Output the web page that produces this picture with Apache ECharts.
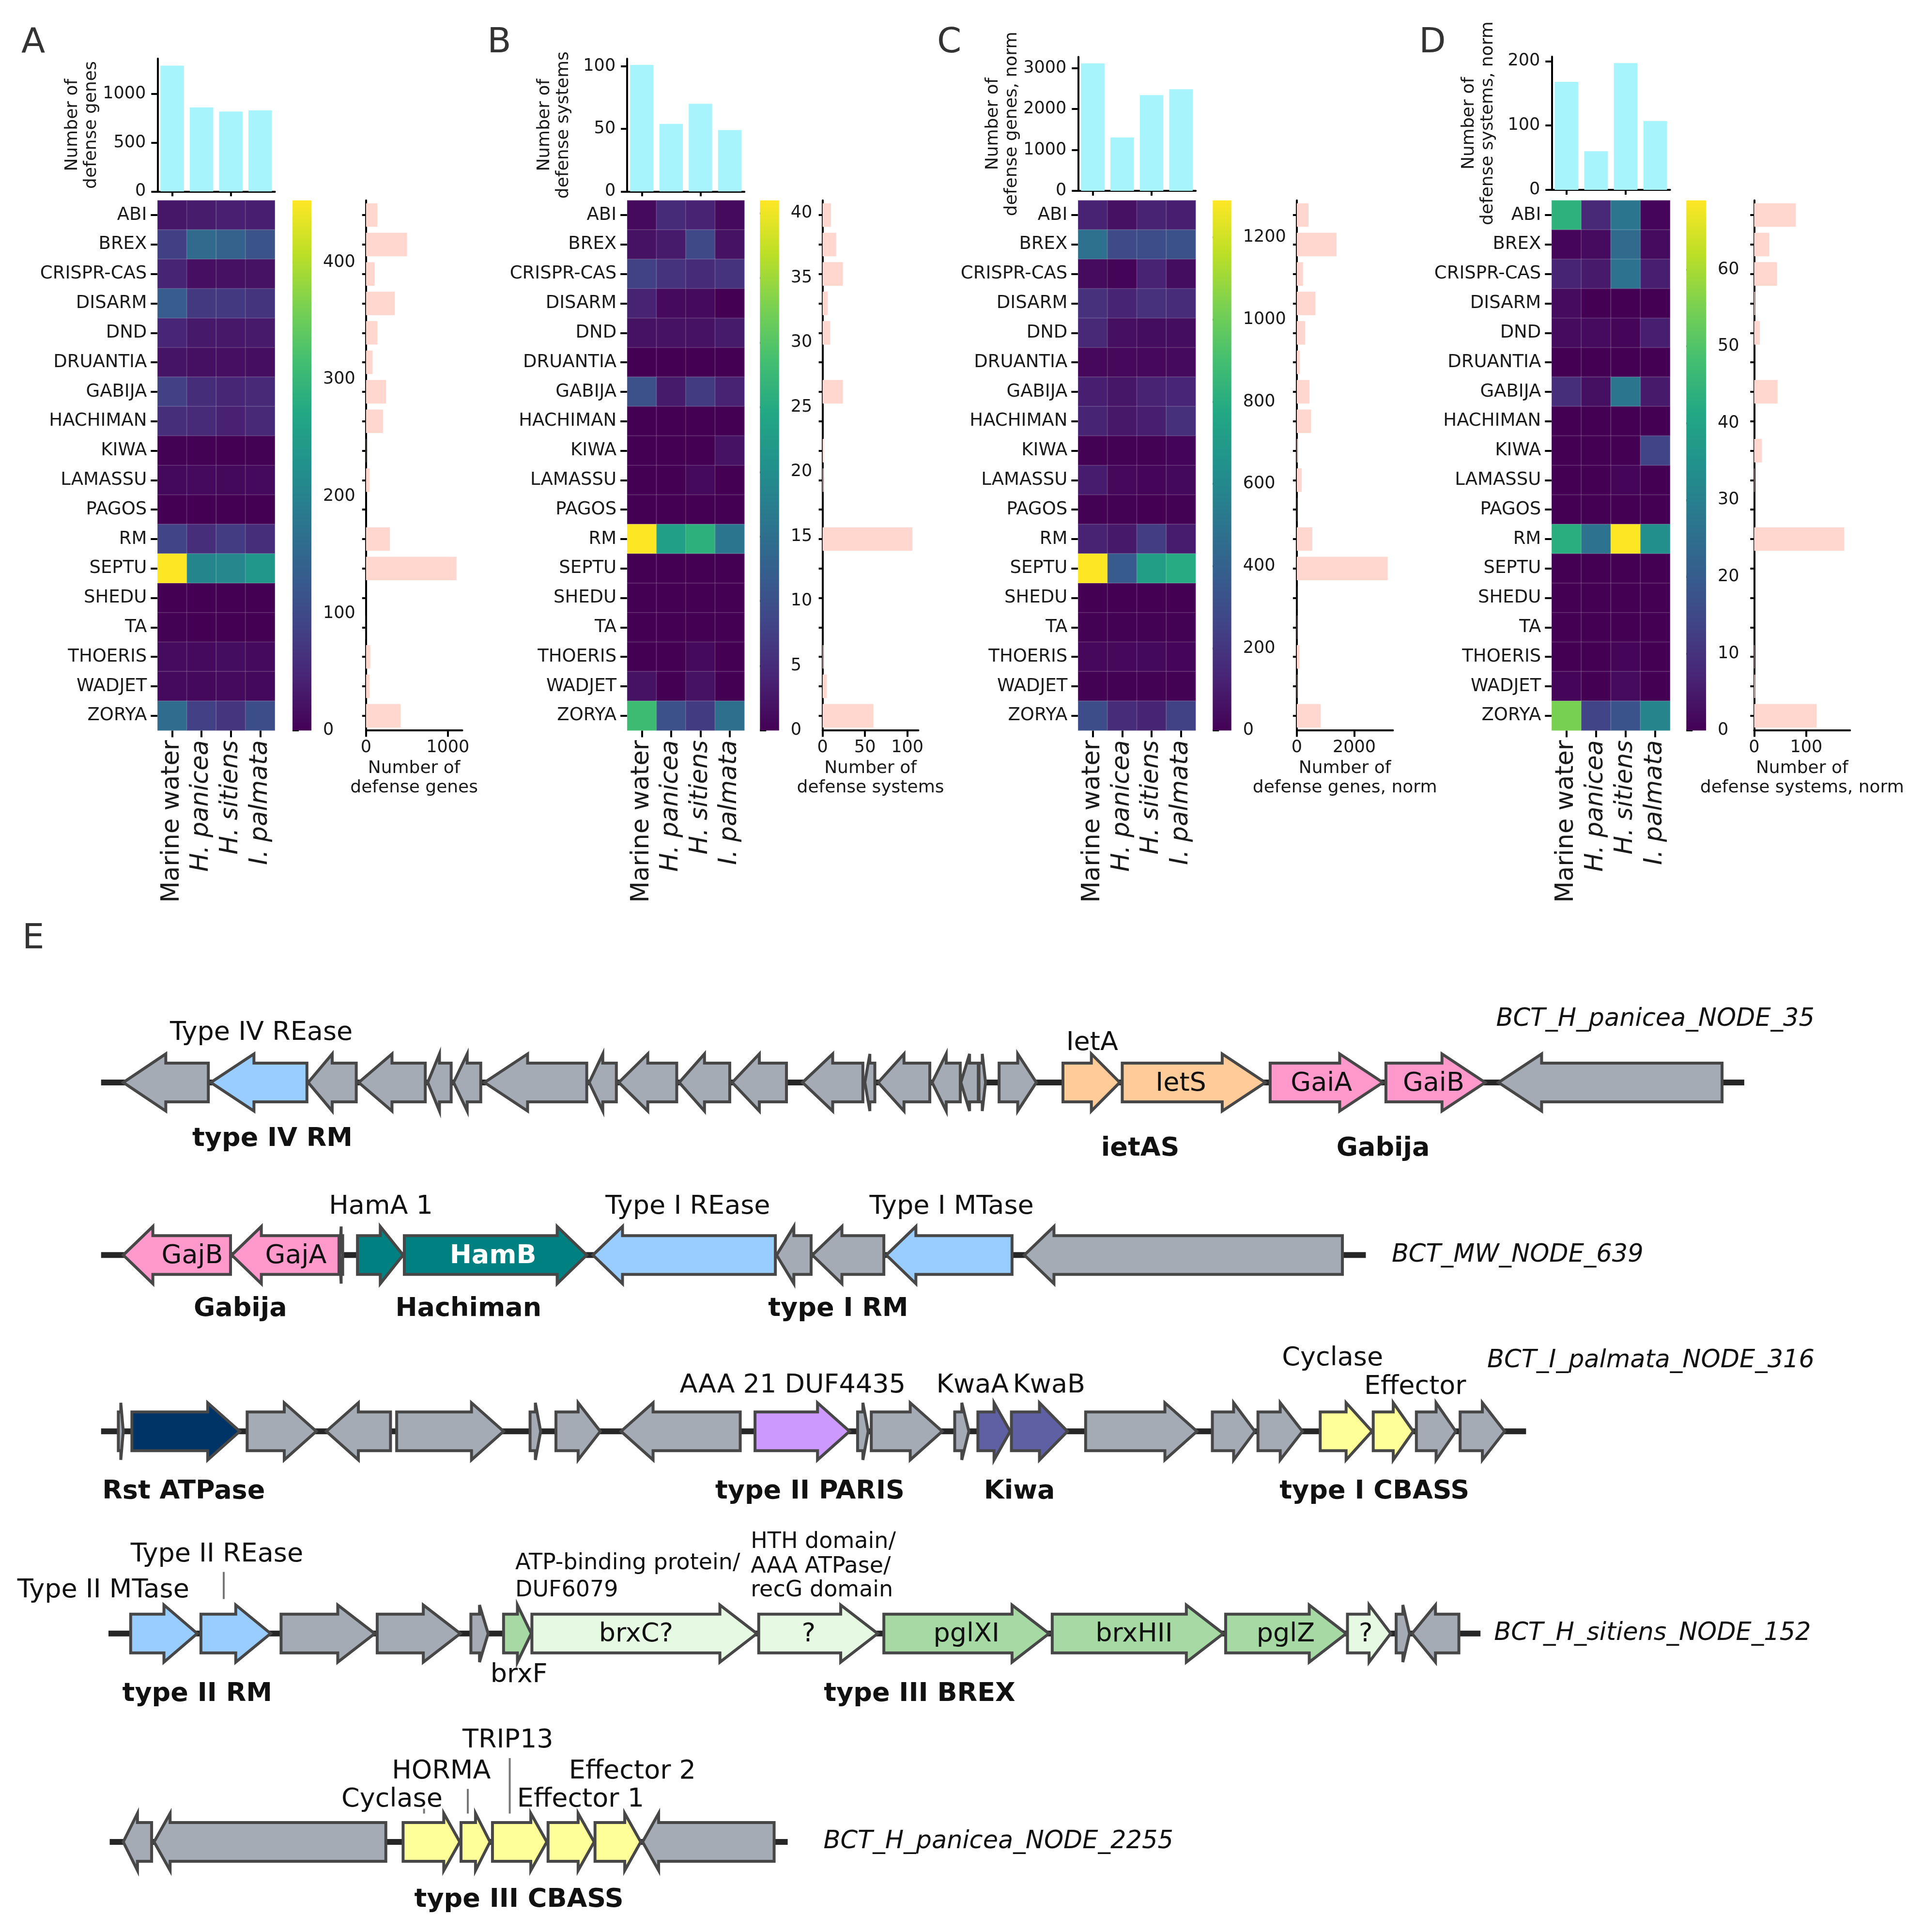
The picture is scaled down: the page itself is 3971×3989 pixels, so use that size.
<!DOCTYPE html>
<html><head><meta charset="utf-8">
<script src="https://cdn.jsdelivr.net/npm/echarts@6/dist/echarts.min.js"></script>
<style>html,body{margin:0;padding:0;background:#fff}#c{width:3971px;height:3989px}</style>
</head><body><div id="c"></div>
<script>
// ================= DATA =================
const samples = ['Marine water', 'H. panicea', 'H. sitiens', 'I. palmata'];
const systems = ['ABI','BREX','CRISPR-CAS','DISARM','DND','DRUANTIA','GABIJA','HACHIMAN','KIWA','LAMASSU','PAGOS','RM','SEPTU','SHEDU','TA','THOERIS','WADJET','ZORYA'];

// Panel A: number of defense genes (rows = systems, cols = samples)
const genesMatrix = [
  [27,35,40,38],[85,158,142,117],[45,18,20,22],[133,75,75,68],[47,31,30,32],[25,19,18,17],
  [86,58,48,53],[59,55,42,52],[1,1,0,1],[11,12,10,12],[0,0,0,0],[92,60,79,60],
  [453,205,210,238],[0,0,0,0],[1,0,0,0],[13,12,16,12],[12,11,12,10],[160,86,69,108]
];
const genesPerSample = [1289, 861, 819, 831];
const genesPerSystem = [140,502,106,351,140,79,245,208,3,45,0,291,1106,0,1,53,45,423];

// Panel B: number of defense systems
const systemsMatrix = [
  [1,5,4,1],[2,3,9,2],[8,6,5,6],[4,1,1,0],[2,2,2,3],[0,0,0,0],
  [10,3,7,4],[0,0,0,0],[0,0,0,2],[0,0,1,0],[0,0,0,0],[41,23,26,16],
  [0,0,0,0],[0,0,0,0],[0,0,0,0],[0,0,1,0],[2,0,2,0],[28,10,7,15]
];
const systemsPerSample = [101, 54, 70, 49];
const systemsPerSystem = [10,16,24,6,9,0,24,0,1.5,1,0,106,0,0,0,1,5,60];

// Panel C: number of defense genes, normalized
const genesNormMatrix = [
  [120,60,120,110],[480,290,300,320],[40,10,120,45],[180,130,180,160],[150,50,45,45],[25,25,25,35],
  [110,80,120,135],[130,85,110,175],[5,5,3,15],[100,25,20,30],[2,2,1,2],[120,90,230,100],
  [1290,370,720,790],[1,1,1,1],[3,3,2,2],[25,25,30,20],[3,5,2,3],[300,160,130,250]
];
const genesNormPerSample = [3113, 1306, 2339, 2482];
const genesNormPerSystem = [410,1384,216,650,292,108,443,497,28,173,7,540,3168,4,10,97,13,832];

// Panel D: number of defense systems, normalized
const systemsNormMatrix = [
  [44,8,27,1],[1,2,24,2],[7,5,26,6],[2,0,0,0],[2,2,1,6],[0,0,0,0],
  [9,3,27,5],[0,0,0,0],[0,0,0,14],[0,0,1,0],[0,0,0,0],[43,26,69,34],
  [0,0,0,0],[0,0,0,0],[0,0,0,0],[0,0,1,0],[1,0,2,0],[55,14,18,31]
];
const systemsNormPerSample = [168, 60, 197, 107];
const systemsNormPerSystem = [80,29,44,2,11,0,45,0,15,1,0,173,0,0,0,1,2,120];

// Tick labels
const topTicksA = [0, 500, 1000],  cbTicksA = [0, 100, 200, 300, 400],             rightTicksA = [0, 1000];
const topTicksB = [0, 50, 100],    cbTicksB = [0, 5, 10, 15, 20, 25, 30, 35, 40],  rightTicksB = [0, 50, 100];
const topTicksC = [0, 1000, 2000, 3000], cbTicksC = [0, 200, 400, 600, 800, 1000, 1200], rightTicksC = [0, 2000];
const topTicksD = [0, 100, 200],   cbTicksD = [0, 10, 20, 30, 40, 50, 60],         rightTicksD = [0, 100];

// Panel E: gene neighbourhoods [start, end, strand, type]
const e1Backbone = [82, 1415];
const e1Genes = [
  [100,169,-1,'gray'],[171,249,-1,'blue'],[250,289,-1,'gray'],[291,345,-1,'gray'],[347,366,-1,'gray'],
  [368,390,-1,'gray'],[393,476,-1,'gray'],[478,500,-1,'gray'],[502,549,-1,'gray'],[551,592,-1,'gray'],
  [594,638,-1,'gray'],[651,700,-1,'gray'],[701.6,709.7,-1,'gray'],[712.4,754.3,-1,'gray'],[756.2,779,-1,'gray'],
  [779.5,793.6,-1,'gray'],[794.2,799.5,1,'gray'],[810.5,840.7,1,'gray'],[862.3,908.4,1,'orange'],
  [910.4,1026.5,1,'orange'],[1030.4,1121.8,1,'pink'],[1124.3,1204.8,1,'pink'],[1215.6,1397,-1,'gray']
];
const e1Labels = [
  [212,-40,'Type IV REase','n'],[221,46,'type IV RM','b'],[886,-32,'IetA','n'],[958,1,'IetS','n'],
  [1072,1,'GaiA','n'],[1163,1,'GaiB','n'],[925,54,'ietAS','b'],[1122,54,'Gabija','b'],
  [1472,-51,'BCT_H_panicea_NODE_35','i','right']
];
const e1Leaders = [];

const e2Backbone = [82, 1108];
const e2Genes = [
  [100,187,-1,'pink'],[188,275,-1,'pink'],[275.5,278,-1,'gray'],[290,327,1,'teal'],[328,476,1,'teal'],
  [481,629,-1,'blue'],[630,658,-1,'gray'],[659,717,-1,'gray'],[719,821,-1,'blue'],[831,1089,-1,'gray']
];
const e2Labels = [
  [309,-39,'HamA 1','n'],[558,-39,'Type I REase','n'],[772,-39,'Type I MTase','n'],
  [156,1,'GajB','n'],[240,1,'GajA','n'],[400,1,'HamB','w'],
  [195,44,'Gabija','b'],[380,44,'Hachiman','b'],[680,44,'type I RM','b'],
  [1129,0,'BCT_MW_NODE_639','i','left']
];
const e2Leaders = [];

const e3Backbone = [82, 1238];
const e3Genes = [
  [96,100,1,'gray'],[107,194.5,1,'navy'],[200.5,256.6,1,'gray'],[264.7,316.8,-1,'gray'],[321.8,408.5,1,'gray'],
  [430,438.6,1,'gray'],[451,487,1,'gray'],[503.8,600.5,-1,'gray'],[612.5,689.2,1,'purple'],[695.7,704.3,1,'gray'],
  [706.8,764.4,1,'gray'],[774.5,786,1,'gray'],[793.3,819.5,1,'kiwa'],[820.5,866,1,'kiwa'],[880.7,971,1,'gray'],
  [983.5,1018,1,'gray'],[1020.5,1056.6,1,'gray'],[1071,1113,1,'yellow'],[1114,1146.5,1,'yellow'],
  [1149,1181,1,'gray'],[1184.5,1220.6,1,'gray']
];
const e3Labels = [
  [643,-37,'AAA 21 DUF4435','n'],[789,-37,'KwaA','n'],[851,-37,'KwaB','n'],
  [1081,-59,'Cyclase','n'],[1148,-36,'Effector','n'],
  [1472,-57,'BCT_I_palmata_NODE_316','i','right'],
  [149,49,'Rst ATPase','b'],[657,49,'type II PARIS','b'],[827,49,'Kiwa','b'],[1115,49,'type I CBASS','b']
];
const e3Leaders = [];

const e4Backbone = [88, 1201];
const e4Genes = [
  [106,160,1,'blue'],[163,219.5,1,'blue'],[228,304,1,'gray'],[306,373.4,1,'gray'],[382,396,1,'gray'],
  [408.5,431,1,'green'],[431.5,614,1,'pale'],[615.5,712,1,'pale'],[717,851,1,'green'],[853.6,992.4,1,'green'],
  [994.3,1092.1,1,'green'],[1093.1,1128.2,1,'pale'],[1132.6,1143.5,1,'gray'],[1145.5,1183.5,-1,'gray']
];
const e4Labels = [
  [14,-35,'Type II MTase','n','left'],[176,-64,'Type II REase','n'],
  [418,-57,'ATP-binding protein/','s','left'],[418,-35,'DUF6079','s','left'],
  [609,-74,'HTH domain/','s','left'],[609,-54,'AAA ATPase/','s','left'],[609,-35,'recG domain','s','left'],
  [516,1,'brxC?','n'],[656,1,'?','n'],[784,1,'pglXI','n'],[920,1,'brxHII','n'],[1043,1,'pglZ','n'],[1108,1,'?','n'],
  [421,34,'brxF','n'],[160,49,'type II RM','b'],[746,49,'type III BREX','b'],
  [1212,0,'BCT_H_sitiens_NODE_152','i','left']
];
const e4Leaders = [[181.5,-50,-28]];

const e5Backbone = [89, 639];
const e5Genes = [
  [100,123,-1,'gray'],[125,313,-1,'gray'],[327,373,1,'yellow'],[374,397.5,1,'yellow'],
  [399.5,443.6,1,'yellow'],[444.6,482,1,'yellow'],[482.7,519.8,1,'yellow'],[521.3,628,-1,'gray']
];
const e5Labels = [
  [412,-82,'TRIP13','n'],[358,-57,'HORMA','n'],[513,-57,'Effector 2','n'],
  [318,-34,'Cyclase','n'],[471,-34,'Effector 1','n'],[421,47,'type III CBASS','b'],
  [668,0,'BCT_H_panicea_NODE_2255','i','left']
];
const e5Leaders = [[413.5,-68,-23],[379.5,-43,-23],[344,-27,-23]];

// ================= LAYOUT / STYLE =================
const K = 3971 / 1560;
const P = v => v * K;
const FONT = 'DejaVu Sans';
const INK = '#1a1a1a';
const VIRIDIS = ['#440154','#482475','#414487','#355f8d','#2a788e','#21918c','#22a884','#44bf70','#7ad151','#bddf26','#fde725'];
const PAL = {gray:'#a5abb4', blue:'#99ccff', orange:'#ffcc99', pink:'#ff99cc', teal:'#008080', navy:'#003366',
  purple:'#cc99ff', kiwa:'#5f5fa3', yellow:'#ffff99', green:'#a6d9a3', pale:'#e6f9e2'};
const plain = v => String(v);

const panels = [
  {mat:genesMatrix, top:genesPerSample, right:genesPerSystem, topTicks:topTicksA, cbTicks:cbTicksA, rightTicks:rightTicksA,
   topTitle:'Number of\ndefense genes', rightTitle:'Number of\ndefense genes'},
  {mat:systemsMatrix, top:systemsPerSample, right:systemsPerSystem, topTicks:topTicksB, cbTicks:cbTicksB, rightTicks:rightTicksB,
   topTitle:'Number of\ndefense systems', rightTitle:'Number of\ndefense systems'},
  {mat:genesNormMatrix, top:genesNormPerSample, right:genesNormPerSystem, topTicks:topTicksC, cbTicks:cbTicksC, rightTicks:rightTicksC,
   topTitle:'Number of\ndefense genes, norm', rightTitle:'Number of\ndefense genes, norm'},
  {mat:systemsNormMatrix, top:systemsNormPerSample, right:systemsNormPerSystem, topTicks:topTicksD, cbTicks:cbTicksD, rightTicks:rightTicksD,
   topTitle:'Number of\ndefense systems, norm', rightTitle:'Number of\ndefense systems, norm'}
];
const LAY = [
  {letter:'A', lx:27,   hx:127.8,  hx2:223,    cb:237.3, cb2:252.6, rb:296.9, rb2:375,   topTop:47.5, topBot:155.3, topMax:1361, rightMax:1177},
  {letter:'B', lx:405,  hx:508.8,  hx2:603.9,  cb:616.5, cb2:632,   rb:667.3, rb2:745,   topTop:47.6, topBot:155.3, topMax:106,  rightMax:113},
  {letter:'C', lx:770,  hx:874.6,  hx2:970,    cb:983.8, cb2:998.9, rb:1052,  rb2:1130,  topTop:46.2, topBot:154.8, topMax:3271, rightMax:3350},
  {letter:'D', lx:1162, hx:1258.8, hx2:1354.8, cb:1368,  cb2:1384,  rb:1423,  rb2:1500.8,topTop:46,   topBot:154,   topMax:207,  rightMax:184}
];
const HM_TOP = 162.5, HM_BOT = 592.5;

const grids = [], xAxes = [], yAxes = [], series = [], visualMaps = [], graphics = [];
function addGrid(g){ g.outerBoundsMode = 'none'; grids.push(g); return grids.length - 1; }
const axLine = {show:true, lineStyle:{color:'#000', width:4}};
const tickStyle = {color:'#000', width:4};
const lab = (size, extra) => Object.assign({color:INK, fontSize:size, fontFamily:FONT}, extra || {});

panels.forEach((pn, i) => {
  const L = LAY[i];
  const M = Math.max(...pn.mat.flat());
  // --- top bar chart
  let g = addGrid({left:P(L.hx), width:P(L.hx2 - L.hx), top:P(L.topTop), height:P(L.topBot - L.topTop)});
  xAxes.push({gridIndex:g, type:'category', data:samples, axisLine:axLine,
    axisTick:{show:true, alignWithLabel:true, length:10, lineStyle:tickStyle}, axisLabel:{show:false}});
  yAxes.push({gridIndex:g, type:'value', min:0, max:L.topMax, axisLine:axLine, splitLine:{show:false},
    axisTick:{show:true, length:13, lineStyle:tickStyle, customValues:pn.topTicks},
    axisLabel:lab(35, {margin:24, customValues:pn.topTicks, formatter:plain}),
    name:pn.topTitle, nameLocation:'middle', nameRotate:90, nameGap:112,
    nameTextStyle:lab(36, {lineHeight:39})});
  series.push({type:'bar', xAxisIndex:xAxes.length-1, yAxisIndex:yAxes.length-1, data:pn.top,
    barWidth:'80%', itemStyle:{color:'#a8f4fd'}});

  // --- heatmap
  g = addGrid({left:P(L.hx), width:P(L.hx2 - L.hx), top:P(HM_TOP), height:P(HM_BOT - HM_TOP)});
  xAxes.push({gridIndex:g, type:'category', data:samples, axisLine:{show:false},
    axisTick:{show:true, alignWithLabel:true, length:14, lineStyle:tickStyle},
    axisLabel:lab(51, {rotate:90, margin:20, interval:0,
      formatter: v => v === 'Marine water' ? v : '{it|' + v + '}',
      rich:{it:{fontStyle:'italic', fontSize:51, fontFamily:FONT, color:INK}}})});
  yAxes.push({gridIndex:g, type:'category', data:systems, inverse:true, axisLine:{show:false},
    axisTick:{show:true, alignWithLabel:true, length:14, lineStyle:tickStyle},
    axisLabel:lab(37, {margin:22, interval:0})});
  const hData = [];
  pn.mat.forEach((row, yi) => row.forEach((v, xi) => hData.push([xi, yi, v])));
  series.push({type:'heatmap', xAxisIndex:xAxes.length-1, yAxisIndex:yAxes.length-1, data:hData,
    itemStyle:{borderColor:'rgba(255,255,255,0.13)', borderWidth:2}});
  visualMaps.push({type:'continuous', show:false, seriesIndex:series.length-1, dimension:2, min:0, max:M,
    inRange:{color:VIRIDIS}});

  // --- colorbar
  g = addGrid({left:P(L.cb), width:P(L.cb2 - L.cb), top:P(HM_TOP), height:P(HM_BOT - HM_TOP)});
  xAxes.push({gridIndex:g, type:'value', min:0, max:1, show:false});
  yAxes.push({gridIndex:g, type:'value', min:0, max:M, position:'right', axisLine:{show:false}, splitLine:{show:false},
    axisTick:{show:true, length:13, lineStyle:tickStyle, customValues:pn.cbTicks},
    axisLabel:lab(35, {margin:24, customValues:pn.cbTicks, formatter:plain})});
  series.push({type:'custom', xAxisIndex:xAxes.length-1, yAxisIndex:yAxes.length-1, data:[[0, M]], clip:false,
    renderItem:(params, api) => {
      const a = api.coord([0, 0]), b = api.coord([1, api.value(1)]);
      return {type:'rect', shape:{x:a[0], y:b[1], width:b[0]-a[0], height:a[1]-b[1]},
        style:{fill:new echarts.graphic.LinearGradient(0, 1, 0, 0,
          VIRIDIS.map((c, k) => ({offset:k/(VIRIDIS.length-1), color:c})))}};
    }});

  // --- right bar chart
  g = addGrid({left:P(L.rb), width:P(L.rb2 - L.rb), top:P(HM_TOP), height:P(HM_BOT - HM_TOP)});
  xAxes.push({gridIndex:g, type:'value', min:0, max:L.rightMax, axisLine:axLine, splitLine:{show:false},
    axisTick:{show:true, length:13, lineStyle:tickStyle, customValues:pn.rightTicks},
    axisLabel:lab(35, {margin:18, customValues:pn.rightTicks, formatter:plain}),
    name:pn.rightTitle, nameLocation:'middle', nameGap:58, nameTextStyle:lab(36, {lineHeight:40, verticalAlign:'top'})});
  yAxes.push({gridIndex:g, type:'category', data:systems, inverse:true, axisLine:axLine,
    axisTick:{show:true, alignWithLabel:true, length:8, lineStyle:tickStyle}, axisLabel:{show:false}});
  series.push({type:'bar', xAxisIndex:xAxes.length-1, yAxisIndex:yAxes.length-1, data:pn.right,
    barWidth:'80%', itemStyle:{color:'#ffd7cf'}});

  graphics.push({type:'text', x:P(L.lx), y:P(35), style:{text:L.letter, fontSize:72, fontFamily:FONT, fill:'#333',
    align:'center', verticalAlign:'middle'}});
});
graphics.push({type:'text', x:P(27), y:P(762), style:{text:'E', fontSize:72, fontFamily:FONT, fill:'#333',
  align:'center', verticalAlign:'middle'}});

// ================= PANEL E =================
const TXT = {
  n:{fontSize:54, fontFamily:FONT, fill:'#111'},
  s:{fontSize:46, fontFamily:FONT, fill:'#111'},
  b:{fontSize:54, fontFamily:FONT, fill:'#111', fontWeight:'bold'},
  i:{fontSize:51, fontFamily:FONT, fill:'#111', fontStyle:'italic'},
  w:{fontSize:54, fontFamily:FONT, fill:'#ffffff', fontWeight:'bold'}
};
const rows = [
  {y:878,  head:35, bb:e1Backbone, genes:e1Genes, labels:e1Labels, leaders:e1Leaders},
  {y:1018, head:24, bb:e2Backbone, genes:e2Genes, labels:e2Labels, leaders:e2Leaders},
  {y:1161, head:26, bb:e3Backbone, genes:e3Genes, labels:e3Labels, leaders:e3Leaders},
  {y:1325, head:30, bb:e4Backbone, genes:e4Genes, labels:e4Labels, leaders:e4Leaders},
  {y:1494, head:13, bb:e5Backbone, genes:e5Genes, labels:e5Labels, leaders:e5Leaders}
];
rows.forEach(R => {
  const g = addGrid({left:0, width:3971, top:P(R.y) - 100, height:200});
  xAxes.push({gridIndex:g, type:'value', min:0, max:1560, show:false});
  yAxes.push({gridIndex:g, type:'value', min:-1, max:1, show:false});
  const xi = xAxes.length-1, yi = yAxes.length-1;
  series.push({type:'custom', xAxisIndex:xi, yAxisIndex:yi, clip:false, data:[R.bb], z:1,
    renderItem:(params, api) => {
      const a = api.coord([api.value(0), 0]), b = api.coord([api.value(1), 0]);
      return {type:'rect', shape:{x:a[0], y:a[1]-6, width:b[0]-a[0], height:12}, style:{fill:'#262626'}};
    }});
  series.push({type:'custom', xAxisIndex:xi, yAxisIndex:yi, clip:false, z:2,
    data:R.genes.map(gn => ({value:[gn[0], gn[1], gn[2]], itemStyle:{color:PAL[gn[3]]}})),
    renderItem:(params, api) => {
      const s = api.coord([api.value(0), 0]), e = api.coord([api.value(1), 0]);
      const dir = api.value(2), x1 = s[0], x2 = e[0], y = s[1];
      const h = Math.min(R.head * K, (x2 - x1) * 0.5), bh = 40, hh = 59;
      const pts = dir > 0
        ? [[x1,y-bh],[x2-h,y-bh],[x2-h,y-hh],[x2,y],[x2-h,y+hh],[x2-h,y+bh],[x1,y+bh]]
        : [[x2,y-bh],[x1+h,y-bh],[x1+h,y-hh],[x1,y],[x1+h,y+hh],[x1+h,y+bh],[x2,y+bh]];
      return {type:'polygon', shape:{points:pts},
        style:{fill:api.visual('color'), stroke:'#474747', lineWidth:6, lineJoin:'miter', miterLimit:6}};
    }});
  series.push({type:'custom', xAxisIndex:xi, yAxisIndex:yi, clip:false, z:3,
    data:R.labels.map(l => [l[0]]),
    renderItem:(params, api) => {
      const l = R.labels[params.dataIndex];
      const p = api.coord([api.value(0), 0]);
      return {type:'text', x:p[0], y:p[1] + l[1]*K,
        style:Object.assign({text:l[2], align:l[4] || 'center', verticalAlign:'middle'}, TXT[l[3]])};
    }});
  if (R.leaders.length) series.push({type:'custom', xAxisIndex:xi, yAxisIndex:yi, clip:false, z:3,
    data:R.leaders.map(l => [l[0], l[1], l[2]]),
    renderItem:(params, api) => {
      const p = api.coord([api.value(0), 0]);
      return {type:'line', shape:{x1:p[0], y1:p[1] + api.value(1)*K, x2:p[0], y2:p[1] + api.value(2)*K},
        style:{stroke:'#777', lineWidth:4}};
    }});
});

const chart = echarts.init(document.getElementById('c'), null, {renderer:'canvas'});
chart.setOption({animation:false, backgroundColor:'#fff', grid:grids, xAxis:xAxes, yAxis:yAxes,
  visualMap:visualMaps, series:series, graphic:graphics});
</script></body></html>
